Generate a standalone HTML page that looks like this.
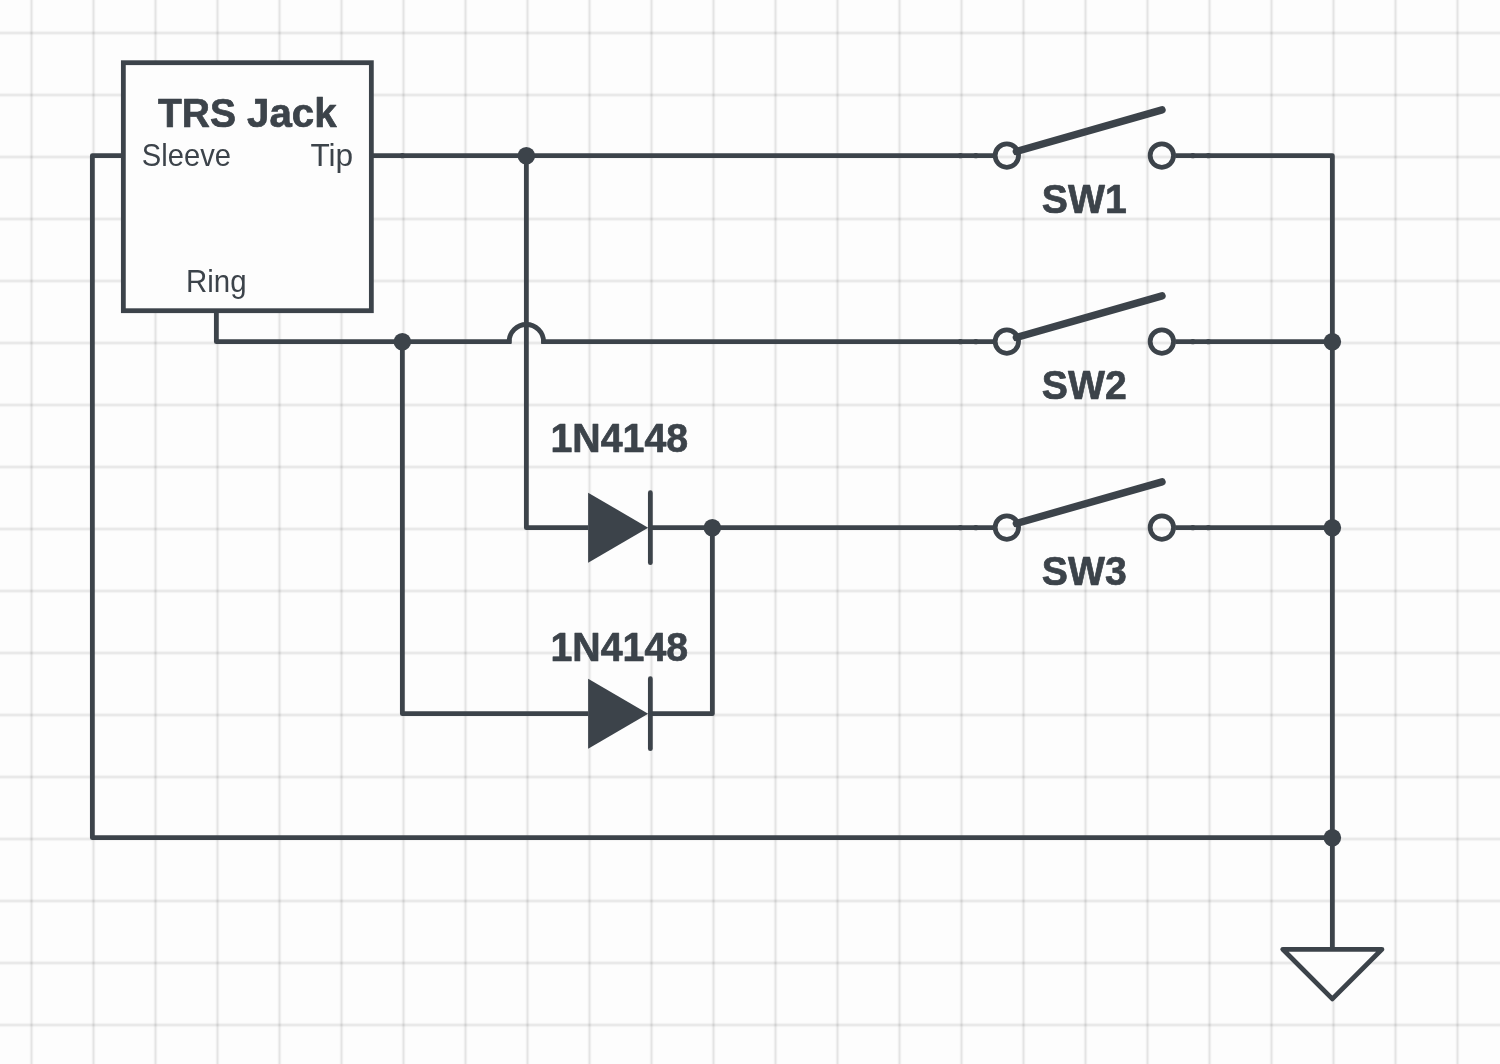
<!DOCTYPE html>
<html lang="en"><head><meta charset="utf-8"><title>TRS Jack switch schematic</title>
<style>
html,body{margin:0;padding:0;background:#fdfdfd}
body{width:1500px;height:1064px}
svg{display:block;will-change:transform}
text{font-family:"Liberation Sans",Arial,Helvetica,sans-serif;fill:#3c434a}
.b{font-weight:bold;font-size:40.2px;stroke:#3c434a;stroke-width:0.7px;stroke-linejoin:round}
.r{font-size:30.5px}
.w{fill:none;stroke:#3c434a;stroke-width:4.8;stroke-linejoin:round;stroke-linecap:butt}
.box{fill:#fdfdfd;stroke:#3c434a;stroke-width:4.8;stroke-linejoin:miter}
.d{fill:#3c434a}
.c{fill:none;stroke:#3c434a;stroke-width:4.8}
.arm{stroke:#3c434a;stroke-width:7.4;stroke-linecap:round;fill:none}
</style></head><body>
<svg width="1500" height="1064" viewBox="0 0 1500 1064">
<rect width="1500" height="1064" fill="#fdfdfd"/>
<g fill="#000" fill-opacity="0.014">
<rect x="29.20" y="0" width="4.6" height="1064"/>
<rect x="91.20" y="0" width="4.6" height="1064"/>
<rect x="153.20" y="0" width="4.6" height="1064"/>
<rect x="215.20" y="0" width="4.6" height="1064"/>
<rect x="277.20" y="0" width="4.6" height="1064"/>
<rect x="339.20" y="0" width="4.6" height="1064"/>
<rect x="401.20" y="0" width="4.6" height="1064"/>
<rect x="463.20" y="0" width="4.6" height="1064"/>
<rect x="525.20" y="0" width="4.6" height="1064"/>
<rect x="587.20" y="0" width="4.6" height="1064"/>
<rect x="649.20" y="0" width="4.6" height="1064"/>
<rect x="711.20" y="0" width="4.6" height="1064"/>
<rect x="773.20" y="0" width="4.6" height="1064"/>
<rect x="835.20" y="0" width="4.6" height="1064"/>
<rect x="897.20" y="0" width="4.6" height="1064"/>
<rect x="959.20" y="0" width="4.6" height="1064"/>
<rect x="1021.20" y="0" width="4.6" height="1064"/>
<rect x="1083.20" y="0" width="4.6" height="1064"/>
<rect x="1145.20" y="0" width="4.6" height="1064"/>
<rect x="1207.20" y="0" width="4.6" height="1064"/>
<rect x="1269.20" y="0" width="4.6" height="1064"/>
<rect x="1331.20" y="0" width="4.6" height="1064"/>
<rect x="1393.20" y="0" width="4.6" height="1064"/>
<rect x="1455.20" y="0" width="4.6" height="1064"/>
<rect x="0" y="30.70" width="1500" height="4.6"/>
<rect x="0" y="92.70" width="1500" height="4.6"/>
<rect x="0" y="154.70" width="1500" height="4.6"/>
<rect x="0" y="216.70" width="1500" height="4.6"/>
<rect x="0" y="278.70" width="1500" height="4.6"/>
<rect x="0" y="340.70" width="1500" height="4.6"/>
<rect x="0" y="402.70" width="1500" height="4.6"/>
<rect x="0" y="464.70" width="1500" height="4.6"/>
<rect x="0" y="526.70" width="1500" height="4.6"/>
<rect x="0" y="588.70" width="1500" height="4.6"/>
<rect x="0" y="650.70" width="1500" height="4.6"/>
<rect x="0" y="712.70" width="1500" height="4.6"/>
<rect x="0" y="774.70" width="1500" height="4.6"/>
<rect x="0" y="836.70" width="1500" height="4.6"/>
<rect x="0" y="898.70" width="1500" height="4.6"/>
<rect x="0" y="960.70" width="1500" height="4.6"/>
<rect x="0" y="1022.70" width="1500" height="4.6"/>
</g>
<g fill="#000" fill-opacity="0.04">
<rect x="30.00" y="0" width="3" height="1064"/>
<rect x="92.00" y="0" width="3" height="1064"/>
<rect x="154.00" y="0" width="3" height="1064"/>
<rect x="216.00" y="0" width="3" height="1064"/>
<rect x="278.00" y="0" width="3" height="1064"/>
<rect x="340.00" y="0" width="3" height="1064"/>
<rect x="402.00" y="0" width="3" height="1064"/>
<rect x="464.00" y="0" width="3" height="1064"/>
<rect x="526.00" y="0" width="3" height="1064"/>
<rect x="588.00" y="0" width="3" height="1064"/>
<rect x="650.00" y="0" width="3" height="1064"/>
<rect x="712.00" y="0" width="3" height="1064"/>
<rect x="774.00" y="0" width="3" height="1064"/>
<rect x="836.00" y="0" width="3" height="1064"/>
<rect x="898.00" y="0" width="3" height="1064"/>
<rect x="960.00" y="0" width="3" height="1064"/>
<rect x="1022.00" y="0" width="3" height="1064"/>
<rect x="1084.00" y="0" width="3" height="1064"/>
<rect x="1146.00" y="0" width="3" height="1064"/>
<rect x="1208.00" y="0" width="3" height="1064"/>
<rect x="1270.00" y="0" width="3" height="1064"/>
<rect x="1332.00" y="0" width="3" height="1064"/>
<rect x="1394.00" y="0" width="3" height="1064"/>
<rect x="1456.00" y="0" width="3" height="1064"/>
<rect x="0" y="31.50" width="1500" height="3"/>
<rect x="0" y="93.50" width="1500" height="3"/>
<rect x="0" y="155.50" width="1500" height="3"/>
<rect x="0" y="217.50" width="1500" height="3"/>
<rect x="0" y="279.50" width="1500" height="3"/>
<rect x="0" y="341.50" width="1500" height="3"/>
<rect x="0" y="403.50" width="1500" height="3"/>
<rect x="0" y="465.50" width="1500" height="3"/>
<rect x="0" y="527.50" width="1500" height="3"/>
<rect x="0" y="589.50" width="1500" height="3"/>
<rect x="0" y="651.50" width="1500" height="3"/>
<rect x="0" y="713.50" width="1500" height="3"/>
<rect x="0" y="775.50" width="1500" height="3"/>
<rect x="0" y="837.50" width="1500" height="3"/>
<rect x="0" y="899.50" width="1500" height="3"/>
<rect x="0" y="961.50" width="1500" height="3"/>
<rect x="0" y="1023.50" width="1500" height="3"/>
</g>
<g fill="#000" fill-opacity="0.044">
<rect x="30.95" y="0" width="1.1" height="1064"/>
<rect x="92.95" y="0" width="1.1" height="1064"/>
<rect x="154.95" y="0" width="1.1" height="1064"/>
<rect x="216.95" y="0" width="1.1" height="1064"/>
<rect x="278.95" y="0" width="1.1" height="1064"/>
<rect x="340.95" y="0" width="1.1" height="1064"/>
<rect x="402.95" y="0" width="1.1" height="1064"/>
<rect x="464.95" y="0" width="1.1" height="1064"/>
<rect x="526.95" y="0" width="1.1" height="1064"/>
<rect x="588.95" y="0" width="1.1" height="1064"/>
<rect x="650.95" y="0" width="1.1" height="1064"/>
<rect x="712.95" y="0" width="1.1" height="1064"/>
<rect x="774.95" y="0" width="1.1" height="1064"/>
<rect x="836.95" y="0" width="1.1" height="1064"/>
<rect x="898.95" y="0" width="1.1" height="1064"/>
<rect x="960.95" y="0" width="1.1" height="1064"/>
<rect x="1022.95" y="0" width="1.1" height="1064"/>
<rect x="1084.95" y="0" width="1.1" height="1064"/>
<rect x="1146.95" y="0" width="1.1" height="1064"/>
<rect x="1208.95" y="0" width="1.1" height="1064"/>
<rect x="1270.95" y="0" width="1.1" height="1064"/>
<rect x="1332.95" y="0" width="1.1" height="1064"/>
<rect x="1394.95" y="0" width="1.1" height="1064"/>
<rect x="1456.95" y="0" width="1.1" height="1064"/>
<rect x="0" y="32.45" width="1500" height="1.1"/>
<rect x="0" y="94.45" width="1500" height="1.1"/>
<rect x="0" y="156.45" width="1500" height="1.1"/>
<rect x="0" y="218.45" width="1500" height="1.1"/>
<rect x="0" y="280.45" width="1500" height="1.1"/>
<rect x="0" y="342.45" width="1500" height="1.1"/>
<rect x="0" y="404.45" width="1500" height="1.1"/>
<rect x="0" y="466.45" width="1500" height="1.1"/>
<rect x="0" y="528.45" width="1500" height="1.1"/>
<rect x="0" y="590.45" width="1500" height="1.1"/>
<rect x="0" y="652.45" width="1500" height="1.1"/>
<rect x="0" y="714.45" width="1500" height="1.1"/>
<rect x="0" y="776.45" width="1500" height="1.1"/>
<rect x="0" y="838.45" width="1500" height="1.1"/>
<rect x="0" y="900.45" width="1500" height="1.1"/>
<rect x="0" y="962.45" width="1500" height="1.1"/>
<rect x="0" y="1024.45" width="1500" height="1.1"/>
</g>
<rect class="box" x="123.35" y="62.7" width="248.0" height="248.0"/>
<path class="w" d="M123.35 155.7 H92.35 V837.7 H1332.35"/>
<path class="w" d="M371.35 155.7 H993.35"/>
<path class="w" d="M1175.35 155.7 H1332.35 V949.3"/>
<path class="w" d="M1175.35 341.7 H1332.35"/>
<path class="w" d="M1175.35 527.7 H1332.35"/>
<path class="w" d="M526.35 155.7 V527.7 H588.35"/>
<path class="w" d="M650.35 527.7 H993.35"/>
<path class="w" d="M216.35 310.7 V341.7 H511.55"/>
<path class="w" style="stroke-linejoin:miter" d="M509.15 343.1 V341.7 A17.2 17.2 0 0 1 543.55 341.7 V343.1"/>
<path class="w" d="M541.15 341.7 H993.35"/>
<path class="w" d="M402.35 341.7 V713.7 H588.35"/>
<path class="w" d="M650.35 713.7 H712.35 V527.7"/>
<path class="d" d="M588.15 492.70000000000005 L648.15 527.7 L588.15 562.7 Z"/>
<path class="w" style="stroke-linecap:round" d="M650.35 492.70000000000005 V562.7"/>
<path class="d" d="M588.15 678.7 L648.15 713.7 L588.15 748.7 Z"/>
<path class="w" style="stroke-linecap:round" d="M650.35 678.7 V748.7"/>
<circle class="d" cx="402.35" cy="155.7" r="2.65"/>
<circle class="d" cx="960.35" cy="155.7" r="2.65"/>
<circle class="d" cx="975.85" cy="155.7" r="2.65"/>
<circle class="d" cx="1192.85" cy="155.7" r="2.65"/>
<circle class="d" cx="1208.35" cy="155.7" r="2.65"/>
<circle class="d" cx="960.35" cy="341.7" r="2.65"/>
<circle class="d" cx="975.85" cy="341.7" r="2.65"/>
<circle class="d" cx="1192.85" cy="341.7" r="2.65"/>
<circle class="d" cx="1208.35" cy="341.7" r="2.65"/>
<circle class="d" cx="960.35" cy="527.7" r="2.65"/>
<circle class="d" cx="975.85" cy="527.7" r="2.65"/>
<circle class="d" cx="1192.85" cy="527.7" r="2.65"/>
<circle class="d" cx="1208.35" cy="527.7" r="2.65"/>
<circle class="d" cx="526.35" cy="155.7" r="8.8"/>
<circle class="d" cx="402.35" cy="341.7" r="8.8"/>
<circle class="d" cx="712.35" cy="527.7" r="8.8"/>
<circle class="d" cx="1332.35" cy="341.7" r="8.8"/>
<circle class="d" cx="1332.35" cy="527.7" r="8.8"/>
<circle class="d" cx="1332.35" cy="837.7" r="8.8"/>
<circle class="c" cx="1006.85" cy="155.58" r="11.7"/>
<circle class="c" cx="1161.85" cy="155.58" r="11.7"/>
<path class="arm" d="M1016.35 151.45 L1162.05 109.9"/>
<text class="b" x="1041.8" y="212.8" textLength="84.9" lengthAdjust="spacingAndGlyphs">SW1</text>
<circle class="c" cx="1006.85" cy="341.58" r="11.7"/>
<circle class="c" cx="1161.85" cy="341.58" r="11.7"/>
<path class="arm" d="M1016.35 337.45 L1162.05 295.9"/>
<text class="b" x="1041.8" y="398.8" textLength="84.9" lengthAdjust="spacingAndGlyphs">SW2</text>
<circle class="c" cx="1006.85" cy="527.58" r="11.7"/>
<circle class="c" cx="1161.85" cy="527.58" r="11.7"/>
<path class="arm" d="M1016.35 523.45 L1162.05 481.9"/>
<text class="b" x="1041.8" y="584.8" textLength="84.9" lengthAdjust="spacingAndGlyphs">SW3</text>
<path class="w" style="fill:#fdfdfd" d="M1282.75 949.3 H1381.95 L1332.35 998.9 Z"/>
<text class="b" y="126.8"><tspan x="158" textLength="78" lengthAdjust="spacingAndGlyphs">TRS</tspan> <tspan x="247" textLength="89.6" lengthAdjust="spacingAndGlyphs">Jack</tspan></text>
<text class="r" x="141.8" y="166.2" textLength="89.2" lengthAdjust="spacingAndGlyphs">Sleeve</text>
<text class="r" x="310.4" y="165.9" textLength="42.7" lengthAdjust="spacingAndGlyphs">Tip</text>
<text class="r" x="186.05" y="291.9" textLength="60.5" lengthAdjust="spacingAndGlyphs">Ring</text>
<text class="b" x="550.5" y="451.9" textLength="137.6" lengthAdjust="spacingAndGlyphs">1N4148</text>
<text class="b" x="550.5" y="660.9" textLength="137.6" lengthAdjust="spacingAndGlyphs">1N4148</text>
</svg></body></html>
